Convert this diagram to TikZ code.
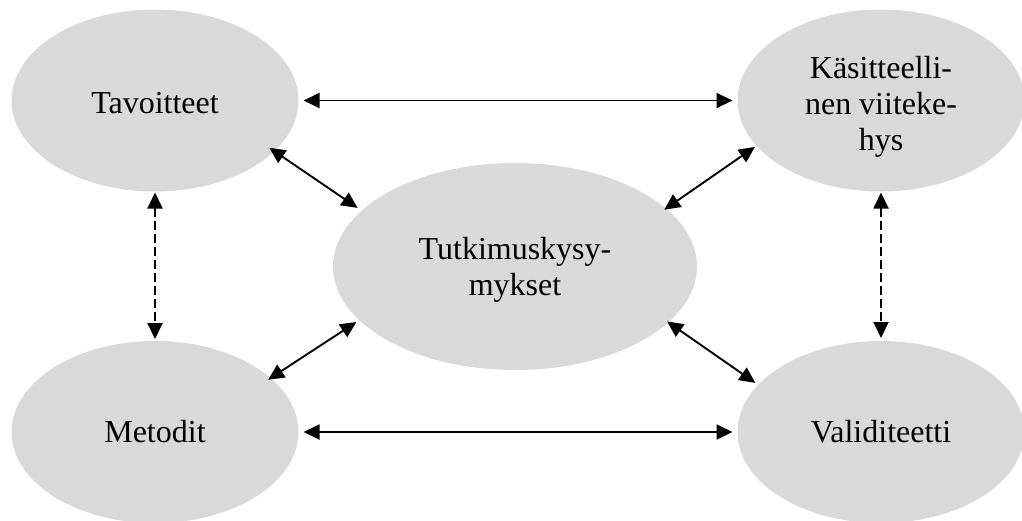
\documentclass[tikz,border=0pt]{standalone}
\usepackage{fontspec}
\setmainfont{Liberation Serif}
\usetikzlibrary{shapes.geometric,arrows.meta}
\definecolor{ellgray}{HTML}{D9D9D9}
\tikzset{
  bubble/.style={ellipse, fill=ellgray, draw=none, inner sep=0pt, outer sep=0pt,
    align=center, font=\fontsize{32}{36}\selectfont, text=black},
  outer/.style={bubble, minimum width=287pt, minimum height=182pt},
  link/.style={line width=1.9pt, {Triangle[length=16pt,width=15pt]}-{Triangle[length=16pt,width=15pt]}},
  dlink/.style={link, dash pattern=on 9pt off 4pt},
}
\begin{document}
\begin{tikzpicture}[x=1pt,y=-1pt]
\useasboundingbox (0,0) rectangle (1022,520);
\node[outer, text height=26pt] (tl) at (155,100.5) {Tavoitteet};
\node[outer, text height=107pt] (tr) at (881,100.5) {Käsitteelli-\\nen viiteke-\\hys};
\node[outer] (bl) at (155,432) {Metodit};
\node[outer] (br) at (881,432) {Validiteetti};
\node[bubble, minimum width=364pt, minimum height=207pt, text height=65pt] (c) at (515,266.5) {Tutkimuskysy-\\mykset};
\draw[link, shorten <=5pt, shorten >=5pt] (tl.east) -- (tr.west);
\draw[link, shorten <=5pt, shorten >=5pt] (bl.east) -- (br.west);
\draw[dlink, shorten <=1pt, shorten >=2pt] (tl.south) -- (bl.north);
\draw[dlink, shorten <=1pt, shorten >=3pt] (tr.south) -- (br.north);
\draw[link, shorten <=-6pt, shorten >=5pt] (tl.-23) -- (c.160);
\draw[link, shorten <=2pt, shorten >=-2pt] (tr.200) -- (c.21);
\draw[link, shorten <=-3pt, shorten >=3.5pt] (bl.25) -- (c.199);
\draw[link, shorten <=3.5pt, shorten >=-1.5pt] (br.159) -- (c.-20);
\end{tikzpicture}
\end{document}
